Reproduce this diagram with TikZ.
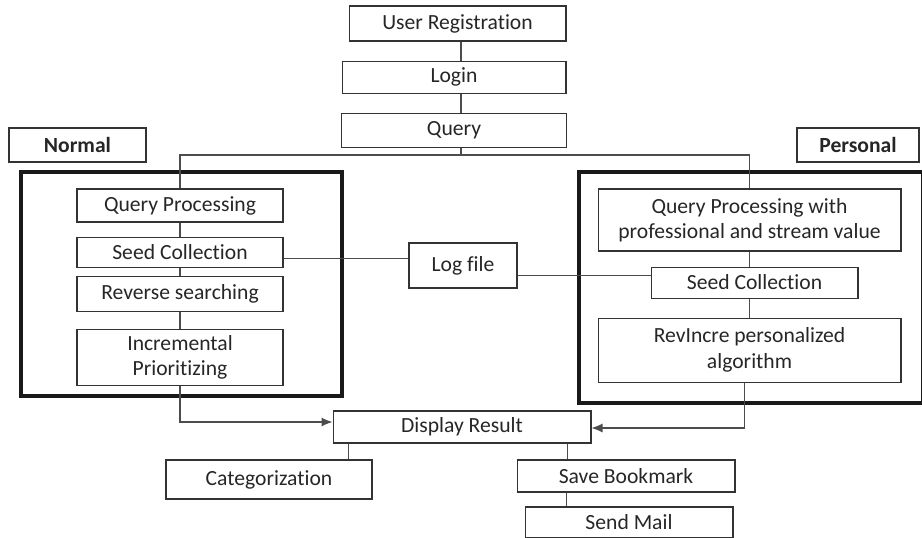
\documentclass[tikz,border=0pt]{standalone}
\usepackage{fontspec}
\setmainfont{Carlito}[Ligatures = {NoCommon, NoRequired, NoContextual}]
\usepackage{tikz}
\usetikzlibrary{arrows.meta}
\usetikzlibrary{positioning}

\begin{document}
\begin{tikzpicture}
[
	x				= 0.02cm,
	y				= -0.02cm,
	Block/.style	= {draw = black!80, line width = 0.6pt, font = \fontsize{12.3}{14.5}\selectfont, text = black!85, align = center, inner sep = 0cm},
	Tag/.style		= {Block, font = \fontsize{12.3}{14.5}\selectfont\bfseries},
	Group/.style	= {draw = black!90, line width = 2.4pt, inner sep = 0cm},
	Link/.style		= {draw = black!70, line width = 0.6pt},
	Flow/.style		= {Link, -{Latex[length = 2.2mm, width = 1.8mm]}},
]

	\path [use as bounding box, clip] (0,0) rectangle (922,537);

	% the two thick frames
	\node (gN) [Group, minimum width = 6.42cm, minimum height = 4.48cm] at (181.5,284) {};
	\node (gP) [Group, minimum width = 6.88cm, minimum height = 4.62cm] at (751,287.5) {};

	% main column
	\node (s1) [Block, minimum width = 4.34cm, minimum height = 0.70cm] at (457.5,23.5) {User Registration};
	\node (s2) [Block, minimum width = 4.48cm, minimum height = 0.64cm, below = 0.38cm of s1, xshift = -0.07cm] {Login};
	\node (s3) [Block, minimum width = 4.50cm, minimum height = 0.68cm, below = 0.38cm of s2] {Query};

	\node (n0) [Tag, minimum width = 2.74cm, minimum height = 0.68cm] at (77.5,145) {Normal};
	\node (p0) [Tag, minimum width = 2.44cm, minimum height = 0.68cm] at (858,145) {Personal};

	% normal search
	\node (n1) [Block, minimum width = 4.12cm, minimum height = 0.66cm] at (180,205.5) {Query Processing};
	\node (n2) [Block, minimum width = 4.12cm, minimum height = 0.60cm, below = 0.28cm of n1] {Seed Collection};
	\node (n3) [Block, minimum width = 4.12cm, minimum height = 0.70cm, below = 0.16cm of n2] {Reverse searching};
	\node (n4) [Block, minimum width = 4.12cm, minimum height = 1.12cm, below = 0.34cm of n3] {Incremental \\ Prioritizing};

	% personal search
	\node (p1) [Block, minimum width = 6.06cm, minimum height = 1.24cm] at (749.5,220) {Query Processing with \\ professional and stream value};
	\node (p2) [Block, minimum width = 4.14cm, minimum height = 0.62cm, below = 0.30cm of p1, xshift = 0.1cm] {Seed Collection};
	\node (p3) [Block, minimum width = 6.06cm, minimum height = 1.28cm, below = 0.38cm of p2, xshift = -0.1cm] {RevIncre personalized \\ algorithm};

	\node (log) [Block, minimum width = 2.16cm, minimum height = 0.90cm] at (463,265.5) {Log file};

	% results
	\node (d1) [Block, minimum width = 5.16cm, minimum height = 0.64cm] at (462,427) {Display Result};
	\node (d2) [Block, minimum width = 4.12cm, minimum height = 0.78cm] at (269,479.5) {Categorization};
	\node (d3) [Block, minimum width = 4.36cm, minimum height = 0.64cm] at (626,476) {Save Bookmark};
	\node (d4) [Block, minimum width = 4.16cm, minimum height = 0.62cm] at (629,522.5) {Send Mail};

	\coordinate (auxA) at (461,155);

	\draw [Link] (s1.south -| auxA) -- (s2.north -| auxA);
	\draw [Link] (s2.south -| auxA) -- (s3.north -| auxA);
	\draw [Link] (s3.south -| auxA) -- (auxA);
	\draw [Link] (n1.north) |- (auxA) -| (p1.north);
	%
	\draw [Link] (n1) -- (n2);
	\draw [Link] (n2) -- (n3);
	\draw [Link] (n3) -- (n4);
	\draw [Link] (p1.south) -- (p1.south |- p2.north);
	\draw [Link] (p2.south -| p1.south) -- (p3.north);
	%
	\draw [Link] ([yshift = -0.12cm]n2.east) -- ([yshift = -0.12cm]n2.east -| log.west);
	\draw [Link] ([yshift = 0.15cm]p2.west) -- ([yshift = 0.15cm]p2.west -| log.east);
	%
	\draw [Flow] (n4.south) |- ([yshift = 0.1cm]d1.west);
	\draw [Flow] ([xshift = -0.1cm]p3.south) |- ([yshift = -0.02cm]d1.east);
	%
	\draw [Link] ([xshift = 0.32cm]d1.south west) -- ([xshift = 0.32cm]d1.south west |- d2.north);
	\draw [Link] ([xshift = -0.48cm]d1.south east) -- ([xshift = -0.48cm]d1.south east |- d3.north);
	\draw [Link] ([xshift = 1.0cm]d3.south west) -- ([xshift = 1.0cm]d3.south west |- d4.north);

\end{tikzpicture}
\end{document}
